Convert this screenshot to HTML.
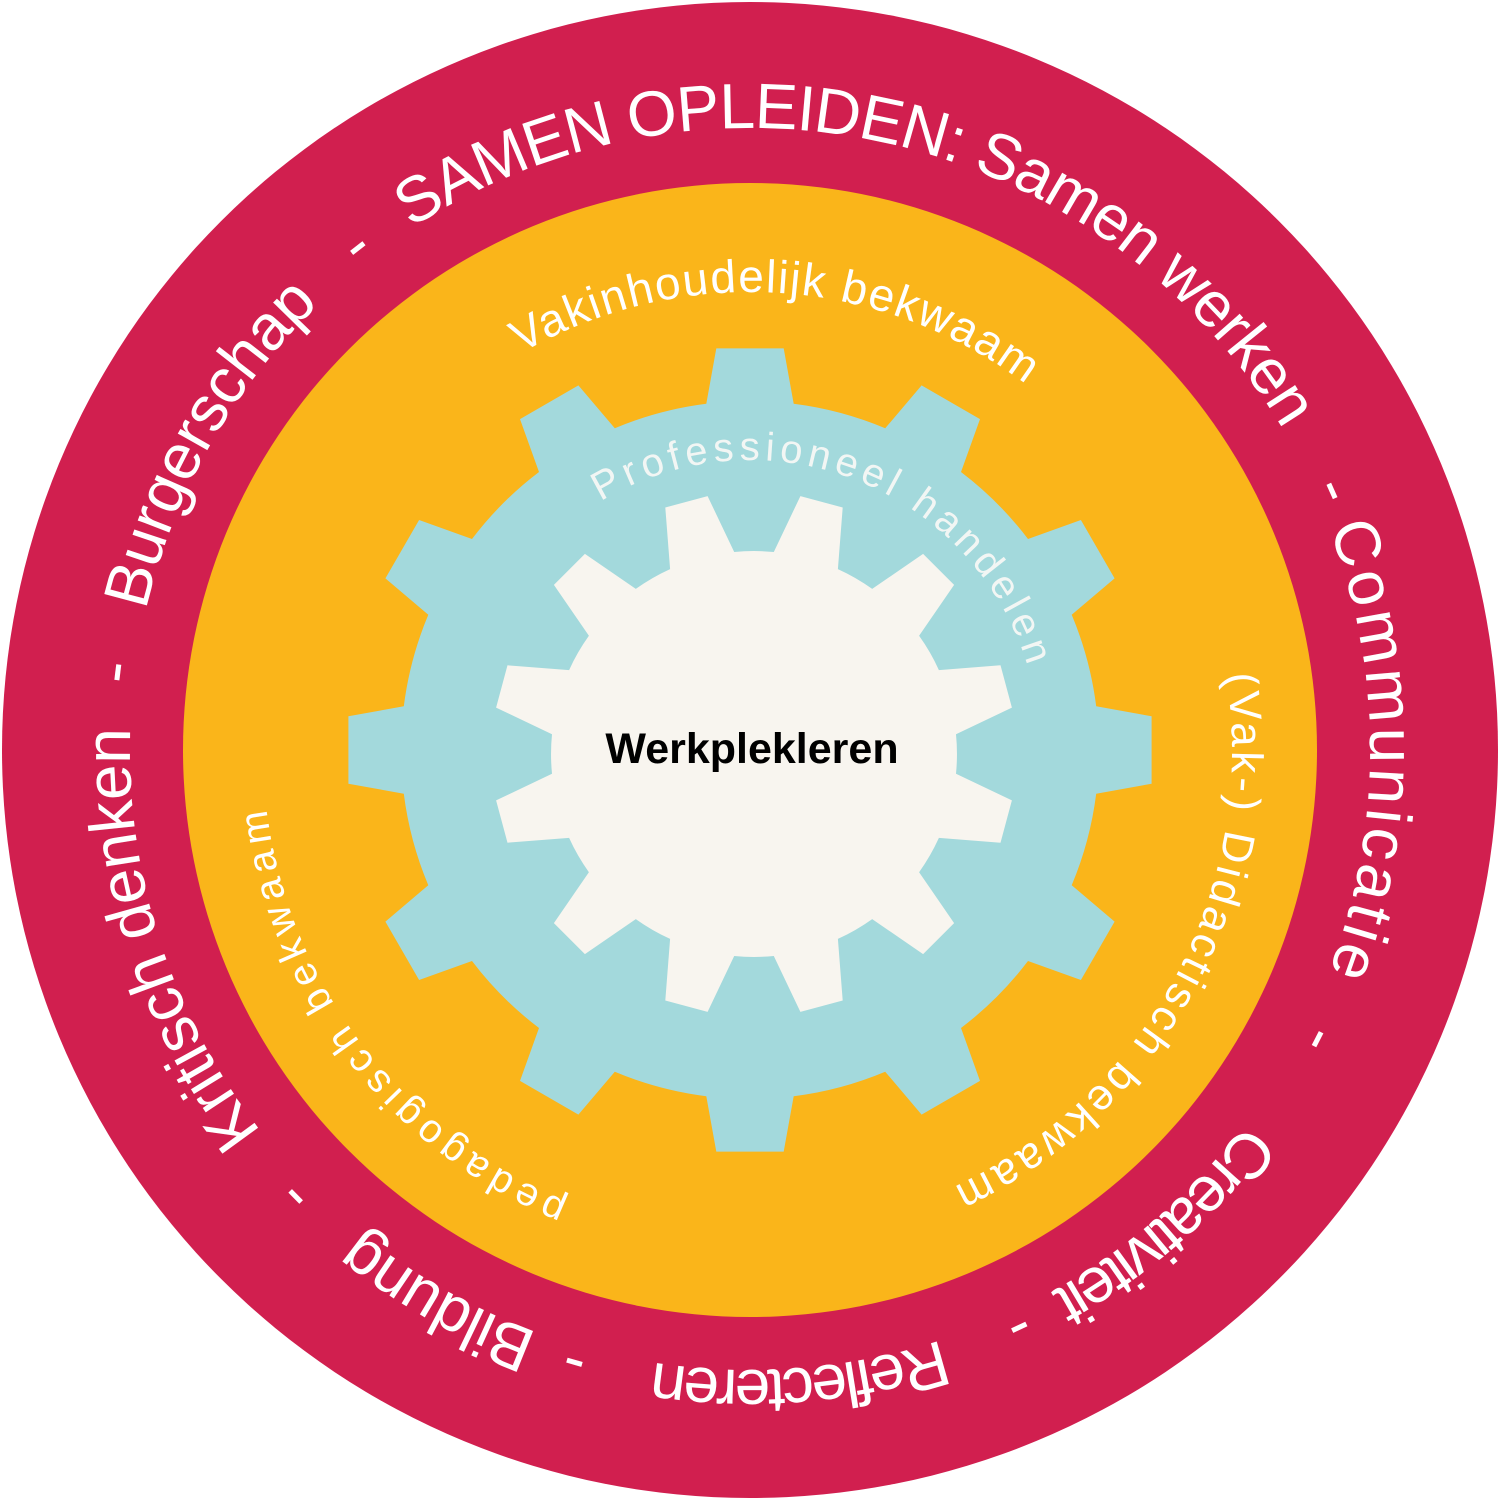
<!DOCTYPE html>
<html><head><meta charset="utf-8"><style>
html,body{margin:0;padding:0;background:#fff;width:1500px;height:1500px;overflow:hidden}
svg{display:block}
text{font-family:"Liberation Sans","DejaVu Sans",sans-serif}
</style></head><body>
<svg id="s" width="1500" height="1500" viewBox="0 0 1500 1500" xmlns="http://www.w3.org/2000/svg">
<circle cx="750" cy="750" r="748" fill="#d11f4f"/>
<circle cx="750" cy="750" r="567" fill="#fab51a"/>
<path id="g1" fill="#a3d9dc"/>
<path id="g2" fill="#f8f5ef"/>
<g id="tx"></g>
<text x="752" y="763" text-anchor="middle" font-size="43" font-weight="bold" fill="#000">Werkplekleren</text>
</svg>
<script>
function pt(cx,cy,r,a){a=a*Math.PI/180;return [cx+r*Math.sin(a),cy-r*Math.cos(a)];}
function gear(cx,cy,n,off,rt,rr,th,bh){
  var d="";var step=360/n;
  for(var i=0;i<n;i++){
    var c=off+i*step;
    var p=[pt(cx,cy,rr,c-bh),pt(cx,cy,rt,c-th),pt(cx,cy,rt,c+th),pt(cx,cy,rr,c+bh)];
    d+=(i==0?"M":"L")+p[0][0].toFixed(1)+","+p[0][1].toFixed(1);
    for(var k=1;k<4;k++)d+="L"+p[k][0].toFixed(1)+","+p[k][1].toFixed(1);
    var nx=pt(cx,cy,rr,c+step-bh);
    d+="A"+rr+","+rr+" 0 0 1 "+nx[0].toFixed(1)+","+nx[1].toFixed(1);
  }
  return d+"Z";
}
document.getElementById("g1").setAttribute("d",gear(750,750,12,0,403,349,4.8,7.2));
document.getElementById("g2").setAttribute("d",gear(754,754,12,15,262,203,4.8,9.4));
var NS="http://www.w3.org/2000/svg",g=document.getElementById("tx"),id=0;
function arc(str,cx,cy,r,a0,a1,size,color,fit){
  id++;
  var p=document.createElementNS(NS,"path");
  var s=pt(cx,cy,r,a0),e=pt(cx,cy,r,a1);
  var large=(a1-a0)>180?1:0;
  p.setAttribute("id","p"+id);p.setAttribute("fill","none");
  p.setAttribute("d","M"+s[0]+","+s[1]+"A"+r+","+r+" 0 "+large+" 1 "+e[0]+","+e[1]);
  g.appendChild(p);
  var t=document.createElementNS(NS,"text");
  t.setAttribute("font-size",size);t.setAttribute("fill",color);
  var tp=document.createElementNS(NS,"textPath");
  tp.setAttribute("href","#p"+id);
  if(fit){tp.setAttribute("textLength",(r*(a1-a0)*Math.PI/180).toFixed(1));tp.setAttribute("lengthAdjust","spacing");}
  else{tp.setAttribute("startOffset","50%");t.setAttribute("text-anchor","middle");}
  tp.textContent=str;t.appendChild(tp);g.appendChild(t);
}
var W="#ffffff";
arc("SAMEN OPLEIDEN: Samen werken",750,750,622,-33,59,64,W,true);
arc("Communicatie",750,750,620,69,111,64,W,true);
arc("Creativiteit",750,750,620,127,151,64,W,true);
arc("Reflecteren",750,750,620,162,189,64,W,true);
arc("Bildung",750,750,620,200,219,64,W,true);
arc("Kritisch denken",750,750,620,232,272,64,W,true);
arc("Burgerschap",750,750,620,283,316,64,W,true);
arc("-",750,750,620,60,72,64,W,false);
arc("-",750,750,620,111,123,64,W,false);
arc("-",750,750,620,150,160,64,W,false);
arc("-",750,750,620,190,202,64,W,false);
arc("-",750,750,620,220,231,64,W,false);
arc("-",750,750,620,271,283,64,W,false);
arc("-",750,750,620,316,328,64,W,false);
arc("Vakinhoudelijk bekwaam",750,750,458,-30,37,46,W,true);
arc("(Vak-) Didactisch bekwaam",750,750,482,81,155,44,W,true);
arc("pedagogisch bekwaam",750,750,487,202,263,40,W,true);
arc("Professioneel handelen",750,750,290,-31,73,40,"#f2f6f4",true);
</script>
</body></html>
